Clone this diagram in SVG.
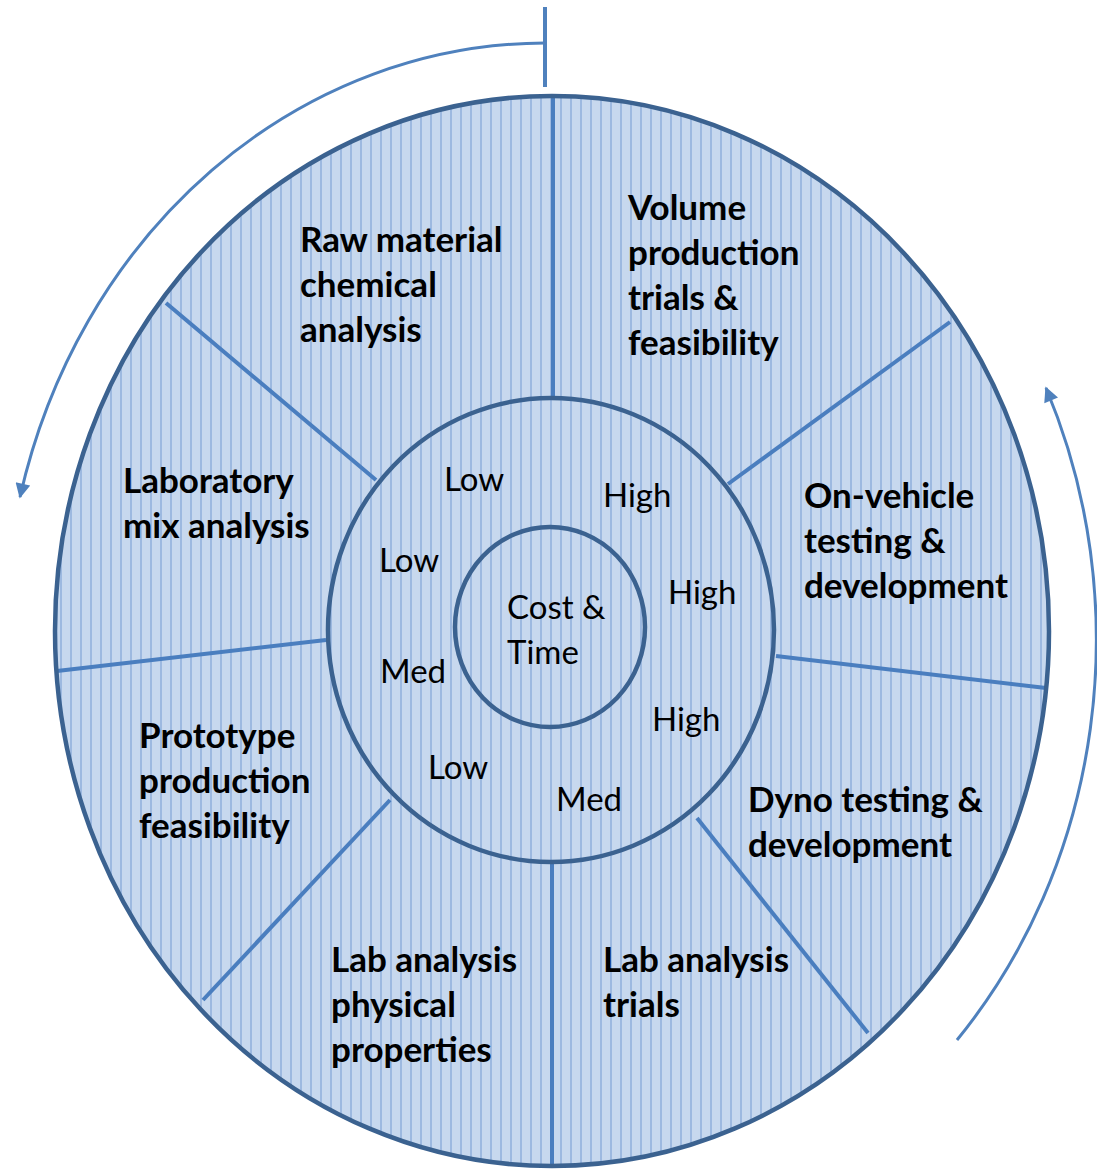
<svg xmlns="http://www.w3.org/2000/svg" width="1097" height="1169" viewBox="0 0 1097 1169">
<style>
.b{font-family:Lato,"Liberation Sans",sans-serif;font-weight:bold;font-size:35px;fill:#000}
.r{font-family:Lato,"Liberation Sans",sans-serif;font-size:33px;fill:#000}
.ring{fill:none;stroke:#3b6290;stroke-width:4.5}
.div{stroke:#4a7ebf;stroke-width:4;fill:none}
.arr{stroke:#4f81bd;stroke-width:3;fill:none}
</style>
<defs>
<pattern id="stripes" width="10" height="10" patternUnits="userSpaceOnUse">
<rect width="10" height="10" fill="#c7d8ee"/>
<rect x="0" y="0" width="2" height="10" fill="#9db9e0"/>
</pattern>
<marker id="ah" viewBox="0 0 10 10" refX="9" refY="5" markerWidth="5.5" markerHeight="5" orient="auto" markerUnits="strokeWidth">
<path d="M0,0 L10,5 L0,10 z" fill="#4f81bd"/>
</marker>
</defs>
<rect width="1097" height="1169" fill="#fff"/>
<g id="wheel">
<ellipse cx="552" cy="631" rx="497" ry="535" fill="url(#stripes)"/>
</g>
<g id="connectors">
<line class="div" x1="553" y1="98" x2="553" y2="398"/>
<line class="div" x1="166" y1="303" x2="376" y2="480"/>
<line class="div" x1="950" y1="322" x2="728" y2="484"/>
<line class="div" x1="57" y1="671" x2="326" y2="640"/>
<line class="div" x1="776" y1="656" x2="1046" y2="688"/>
<line class="div" x1="390" y1="800" x2="203" y2="1000"/>
<line class="div" x1="552" y1="862" x2="552" y2="1165"/>
<line class="div" x1="697" y1="818" x2="868" y2="1033"/>
<line id="tick" x1="545" y1="7" x2="545" y2="87" stroke="#4f81bd" stroke-width="4"/>
<path class="arr" d="M545,43 A542,598 0 0 0 20,497" marker-end="url(#ah)"/>
<path class="arr" d="M957,1040 A542,598 0 0 0 1046,388" marker-end="url(#ah)"/>
</g>
<g id="rings">
<ellipse class="ring" cx="552" cy="631" rx="497" ry="535"/>
<ellipse class="ring" cx="551" cy="630" rx="223" ry="232"/>
<ellipse class="ring" cx="550" cy="627" rx="95" ry="100"/>
</g>
<g id="n-raw"><text class="b" x="300" y="252">Raw material</text><text class="b" x="300" y="297">chemical</text><text class="b" x="300" y="342">analysis</text></g>
<g id="n-volume"><text class="b" x="628" y="220">Volume</text><text class="b" x="628" y="265">production</text><text class="b" x="628" y="310">trials &amp;</text><text class="b" x="628" y="355">feasibility</text></g>
<g id="n-onvehicle"><text class="b" x="804" y="508">On-vehicle</text><text class="b" x="804" y="553">testing &amp;</text><text class="b" x="804" y="598">development</text></g>
<g id="n-labmix"><text class="b" x="123" y="493">Laboratory</text><text class="b" x="123" y="538">mix analysis</text></g>
<g id="n-proto"><text class="b" x="139" y="748">Prototype</text><text class="b" x="139" y="793">production</text><text class="b" x="139" y="838">feasibility</text></g>
<g id="n-dyno"><text class="b" x="748" y="812">Dyno testing &amp;</text><text class="b" x="748" y="857">development</text></g>
<g id="n-labphys"><text class="b" x="331" y="972">Lab analysis</text><text class="b" x="331" y="1017">physical</text><text class="b" x="331" y="1062">properties</text></g>
<g id="n-labtrials"><text class="b" x="603" y="972">Lab analysis</text><text class="b" x="603" y="1017">trials</text></g>
<g id="levels">
<text class="r" x="444" y="491">Low</text>
<text class="r" x="603" y="507">High</text>
<text class="r" x="379" y="572">Low</text>
<text class="r" x="668" y="604">High</text>
<text class="r" x="380" y="683">Med</text>
<text class="r" x="652" y="731">High</text>
<text class="r" x="428" y="779">Low</text>
<text class="r" x="556" y="811">Med</text>
</g>
<g id="center"><text class="r" x="507" y="619">Cost &amp;</text><text class="r" x="507" y="664">Time</text></g>
</svg>
